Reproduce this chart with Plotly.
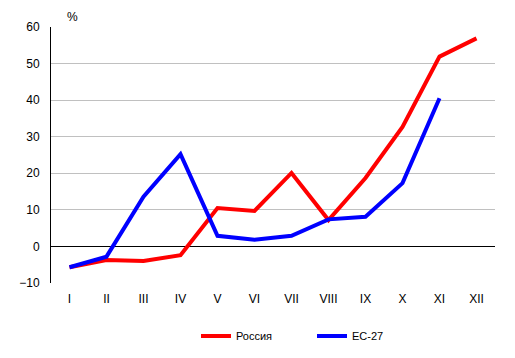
import plotly.graph_objects as go

months = ["I", "II", "III", "IV", "V", "VI", "VII", "VIII", "IX", "X", "XI", "XII"]
russia = [-5.7, -3.7, -4.0, -2.4, 10.5, 9.7, 20.1, 7.2, 18.7, 32.7, 51.9, 56.9]
eu27 = [-5.7, -2.8, 13.6, 25.2, 2.9, 1.8, 2.9, 7.4, 8.1, 17.3, 40.5, None]
yticks = [-10, 0, 10, 20, 30, 40, 50, 60]

fig = go.Figure()
fig.add_trace(go.Scatter(x=months, y=russia, mode="lines", name="Россия",
                         line=dict(color="#ff0000", width=4)))
fig.add_trace(go.Scatter(x=months, y=eu27, mode="lines", name="ЕС-27",
                         line=dict(color="#0000ff", width=4)))

fig.update_layout(
    width=515, height=358,
    margin=dict(l=51, r=20, t=27, b=75, autoexpand=False),
    paper_bgcolor="white", plot_bgcolor="white",
    font=dict(family="Liberation Sans, Arial, sans-serif", size=12, color="black"),
    showlegend=True,
    legend=dict(orientation="h", xref="container", yref="container",
                x=(201 - 5) / 515, xanchor="left", y=1 - 336/358, yanchor="middle",
                font=dict(size=11, color="black"), entrywidth=71, entrywidthmode="pixels"),
    xaxis=dict(range=[-0.5, 11.5], showgrid=False, zeroline=False, showline=False,
               ticks="", automargin=False, ticklabelstandoff=7,
               tickfont=dict(size=12, color="black")),
    yaxis=dict(range=[-10, 60], tickvals=yticks, showgrid=True, gridcolor="#c0c0c0",
               gridwidth=1, zeroline=True, zerolinecolor="black", zerolinewidth=1,
               showline=True, linecolor="black", linewidth=1, ticks="", automargin=False,
               ticklabelstandoff=8, tickfont=dict(size=12, color="black")),
    annotations=[dict(text="%", xref="paper", yref="paper", x=(72-51)/444, y=(283-17)/256,
                      showarrow=False, xanchor="center", yanchor="middle",
                      font=dict(size=12, color="black"))],
)

fig.write_html("out.html", config={"displayModeBar": False},
               post_script="document.body.style.margin='0';document.body.style.padding='0';")
